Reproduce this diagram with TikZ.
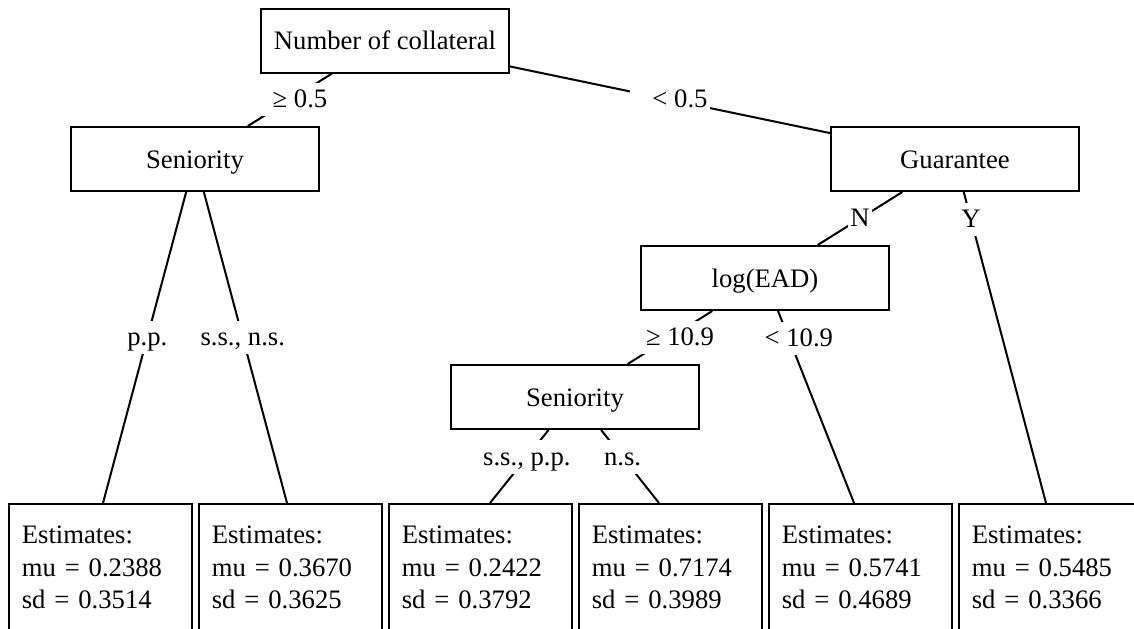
\documentclass[tikz,border=0pt]{standalone}
\usepackage{fontspec}
\setmainfont{Liberation Serif}
\usetikzlibrary{calc}

\begin{document}
\begin{tikzpicture}[x=0.375pt,y=-0.375pt,line width=0.75pt,
		split/.style={draw,rectangle,minimum width=93pt,minimum height=24pt,text height=0.7em,text depth=0pt},
		leaf/.style={draw,rectangle,anchor=north,align=left,text width=59pt,inner xsep=4.8pt,inner ysep=8.2pt,
			text depth=40pt,font=\fontsize{10pt}{12.2pt}\selectfont},
		elabel/.style={fill=white,inner xsep=1pt,inner ysep=2pt,text height=0.72em,text depth=0.12em},
		ineq/.style={elabel,execute at begin node={\hspace*{7.5pt}}}]
		\useasboundingbox (0,0) rectangle (1134,628);
		\clip (0,0) rectangle (1134,628);
		% inner nodes
		\node[split] (collat) at (385,40.5) {Number of collateral};
		\node[split] (senior1) at (195,159) {Seniority};
		\node[split] (guarantee) at (955,159) {Guarantee};
		\node[split] (logead) at (765,278) {log(EAD)};
		\node[split] (senior2) at (575,397) {Seniority};
		% terminal nodes
		\foreach \mval/\sval/\dx [count=\i] in {0.2388/0.3514/2.5,0.3670/0.3625/-3.5,0.2422/0.3792/9.5,
			0.7174/0.3989/-11.5,0.5741/0.4689/-6.5,0.5485/0.3366/-4.5}
		{\node[leaf] (leaf\i) at ({100.5+190*(\i-1)},503) {Estimates:\\mu = \mval\\sd = \sval};
			\coordinate (top\i) at ($(leaf\i.north)+(\dx,0)$);}
		\draw (collat) -- (senior1) node[ineq,midway] {≥ 0.5};
		\draw (collat) -- (guarantee) node[ineq,midway] {< 0.5};
		\draw (senior1) -- (top1) node[elabel,pos=0.468] {p.p.};
		\draw (senior1) -- (top2) node[elabel,pos=0.468] {s.s., n.s.};
		\draw (guarantee) -- (logead) node[elabel,midway] {N};
		\draw (guarantee) -- (top6) node[elabel,pos=0.088] {Y};
		\draw (logead) -- (senior2) node[ineq,midway] {≥ 10.9};
		\draw (logead) -- (top5) node[ineq,pos=0.142] {< 10.9};
		\draw (senior2) -- (top3) node[elabel,pos=0.37] {s.s., p.p.};
		\draw (senior2) -- (top4) node[elabel,pos=0.37] {n.s.};
\end{tikzpicture}
\end{document}
